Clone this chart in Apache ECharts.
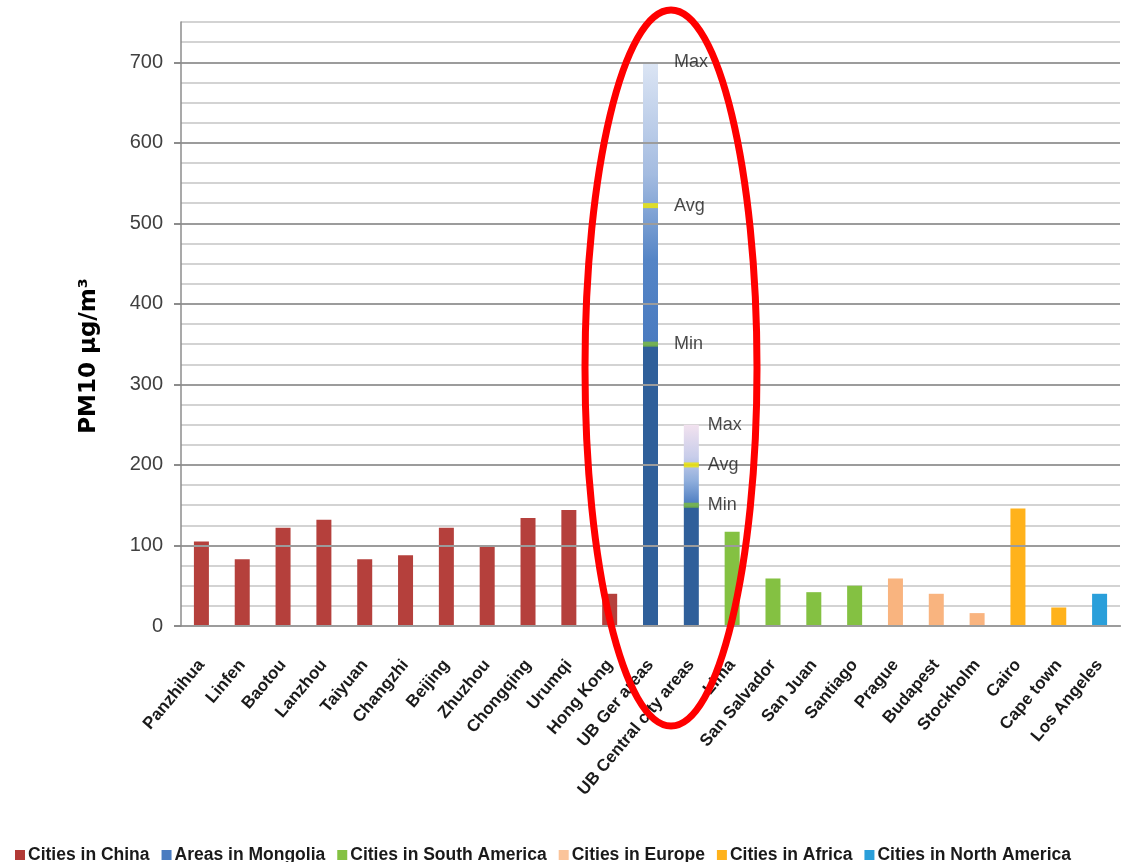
<!DOCTYPE html>
<html>
<head>
<meta charset="utf-8">
<script src="https://cdn.jsdelivr.net/npm/echarts@6/dist/echarts.min.js"></script>
<style>
html,body{margin:0;padding:0;background:#fff;}
#chart{width:1126px;height:862px;}
</style>
</head>
<body>
<div id="chart"></div>
<script>
// ---- data ----
var categories = ['Panzhihua','Linfen','Baotou','Lanzhou','Taiyuan','Changzhi','Beijing','Zhuzhou','Chongqing','Urumqi','Hong Kong','UB Ger areas','UB Central city areas','Lima','San Salvador','San Juan','Santiago','Prague','Budapest','Stockholm','Cairo','Cape town','Los Angeles'];
var chinaCities = ['Panzhihua','Linfen','Baotou','Lanzhou','Taiyuan','Changzhi','Beijing','Zhuzhou','Chongqing','Urumqi','Hong Kong'];
var chinaValues = [105, 83, 122, 132, 83, 88, 122, 100, 134, 144, 40];
var mongoliaAreas = ['UB Ger areas','UB Central city areas'];
var mongoliaMin = [350, 150];
var mongoliaAvg = [522, 200];
var mongoliaMax = [700, 250];
var southAmericaCities = ['Lima','San Salvador','San Juan','Santiago'];
var southAmericaValues = [117, 59, 42, 50];
var europeCities = ['Prague','Budapest','Stockholm'];
var europeValues = [59, 40, 16];
var africaCities = ['Cairo','Cape town'];
var africaValues = [146, 23];
var northAmericaCities = ['Los Angeles'];
var northAmericaValues = [40];
var yTickLabels = [0, 100, 200, 300, 400, 500, 600, 700];

function fill(names, values) {
  var arr = categories.map(function(){ return '-'; });
  names.forEach(function(n, i){ arr[categories.indexOf(n)] = values[i]; });
  return arr;
}

var rangeColors = [
  ['#4A7BC0', '#5585C6', '#A3BBE0', '#DCE5F4'],
  ['#4A7BC0', '#8FAEDC', '#C8CDEA', '#F2E2EF']
];
var mongoliaRange = categories.map(function(){ return '-'; });
mongoliaAreas.forEach(function(n, i){
  var c = rangeColors[i];
  mongoliaRange[categories.indexOf(n)] = {
    value: mongoliaMax[i] - mongoliaMin[i],
    itemStyle: { color: new echarts.graphic.LinearGradient(0, 1, 0, 0, [
      {offset: 0, color: c[0]}, {offset: 0.3, color: c[1]}, {offset: 0.6, color: c[2]}, {offset: 1, color: c[3]}
    ]) }
  };
});

var labelFont = {fontFamily: '"Liberation Sans", Arial, sans-serif', fontSize: 18, color: '#1a1a1a'};
var markerData = [];
mongoliaAreas.forEach(function(n, i){
  var dist = i === 0 ? 16 : 9;
  markerData.push({value: [n, mongoliaMax[i]], itemStyle: {color: 'rgba(0,0,0,0)'}, label: {formatter: 'Max', distance: dist}});
  markerData.push({value: [n, mongoliaAvg[i]], itemStyle: {color: '#F2EA00'}, label: {formatter: 'Avg', distance: dist}});
  markerData.push({value: [n, mongoliaMin[i]], itemStyle: {color: '#7DBE3C'}, label: {formatter: 'Min', distance: dist}});
});

var barW = 15;
var chart = echarts.init(document.getElementById('chart'), null, {renderer: 'canvas'});
chart.setOption({
  animation: false,
  backgroundColor: '#fff',
  grid: {left: 181, right: 6, top: 22, bottom: 236, containLabel: false},
  legend: {
    left: 10, top: 841,
    itemWidth: 10, itemHeight: 10, itemGap: 12,
    icon: 'rect',
    textStyle: {fontFamily: '"Liberation Sans", Arial, sans-serif', fontWeight: 'bold', fontSize: 17.5, color: '#1a1a1a', padding: [0,0,0,-2]},
    data: [
      {name: 'Cities in China', itemStyle: {color: '#B23A36'}},
      {name: 'Areas in Mongolia', itemStyle: {color: '#4A7CC0'}},
      {name: 'Cities in South America', itemStyle: {color: '#84C142'}},
      {name: 'Cities in Europe', itemStyle: {color: '#FBC49A'}},
      {name: 'Cities in Africa', itemStyle: {color: '#FFB21B'}},
      {name: 'Cities in North America', itemStyle: {color: '#2A9FDA'}}
    ]
  },
  xAxis: {
    type: 'category',
    data: categories,
    axisTick: {show: false},
    axisLine: {lineStyle: {color: '#8C8C8C', width: 2}},
    axisLabel: {
      rotate: 50, interval: 0, margin: 36,
      fontFamily: '"Liberation Sans", Arial, sans-serif', fontWeight: 'bold', fontSize: 17, color: '#1a1a1a'
    }
  },
  yAxis: [{
    type: 'value', min: 0, max: 750, interval: 100,
    name: 'PM10 μg/m³', nameLocation: 'middle', nameGap: 80,
    nameTextStyle: {fontFamily: '"DejaVu Sans", sans-serif', fontWeight: 'bold', fontSize: 23, color: '#000', padding: [0, 64, 0, 0]},
    axisLine: {show: true, lineStyle: {color: '#8C8C8C', width: 1.5}},
    axisTick: {show: true, length: 7, customValues: yTickLabels, lineStyle: {color: '#8C8C8C', width: 2}},
    axisLabel: {
      margin: 18,
      fontFamily: '"Liberation Sans", Arial, sans-serif', fontSize: 20, color: '#404040',
      formatter: function(v){ return yTickLabels.indexOf(v) >= 0 ? String(v) : ''; }
    },
    splitLine: {show: true, lineStyle: {color: '#9C9C9C', width: 2}},
    z: 3
  }, {
    type: 'value', min: 0, max: 750, interval: 25, position: 'left',
    axisLine: {show: false}, axisTick: {show: false}, axisLabel: {show: false},
    splitLine: {show: true, lineStyle: {color: '#C4C4C4', width: 1.5}},
    z: 1
  }],
  series: [
    {name: 'Cities in China', type: 'bar', stack: 'all', barWidth: barW, data: fill(chinaCities, chinaValues), itemStyle: {color: '#B5403C'}},
    {name: 'Areas in Mongolia', type: 'bar', stack: 'all', barWidth: barW, data: fill(mongoliaAreas, mongoliaMin), itemStyle: {color: '#2F5F9A'}},
    {name: 'Mongolia range', type: 'bar', stack: 'all', barWidth: barW, data: mongoliaRange},
    {name: 'Cities in South America', type: 'bar', stack: 'all', barWidth: barW, data: fill(southAmericaCities, southAmericaValues), itemStyle: {color: '#84C142'}},
    {name: 'Cities in Europe', type: 'bar', stack: 'all', barWidth: barW, data: fill(europeCities, europeValues), itemStyle: {color: '#F9B47F'}},
    {name: 'Cities in Africa', type: 'bar', stack: 'all', barWidth: barW, data: fill(africaCities, africaValues), itemStyle: {color: '#FFB21B'}},
    {name: 'Cities in North America', type: 'bar', stack: 'all', barWidth: barW, data: fill(northAmericaCities, northAmericaValues), itemStyle: {color: '#2A9FDA'}},
    {
      name: 'Markers', type: 'scatter', symbol: 'rect', symbolSize: [15, 5], z: 5,
      data: markerData,
      label: Object.assign({show: true, position: 'right'}, labelFont)
    }
  ],
  graphic: [{
    type: 'ellipse', z: 100,
    shape: {cx: 671, cy: 368, rx: 86, ry: 358},
    style: {fill: 'none', stroke: '#FF0000', lineWidth: 7}
  }]
});
</script>
</body>
</html>
